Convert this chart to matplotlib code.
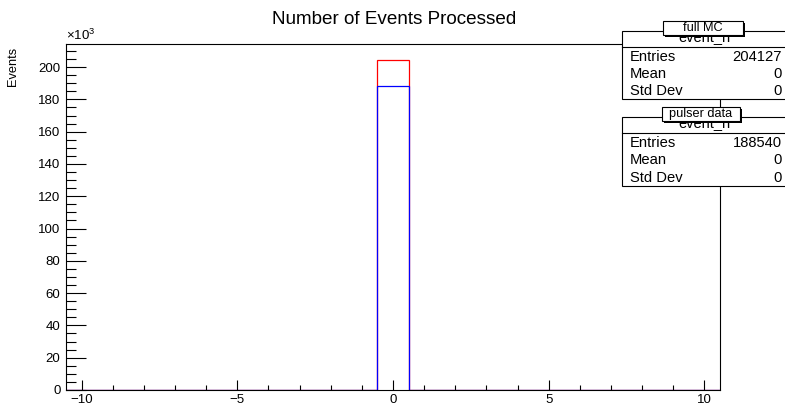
import numpy as np
import matplotlib as mpl
mpl.use('Agg')
import matplotlib.pyplot as plt
from matplotlib.patches import Rectangle
from matplotlib.ticker import MultipleLocator, FuncFormatter

plt.rcParams['font.family'] = ['Liberation Sans', 'DejaVu Sans']
plt.rcParams['mathtext.fontset'] = 'custom'
plt.rcParams['mathtext.rm'] = 'Liberation Sans'
plt.rcParams['mathtext.it'] = 'Liberation Sans:italic'

# event_n histograms, 21 unit bins from -10.5 to 10.5
bin_edges = [-10.5, -9.5, -8.5, -7.5, -6.5, -5.5, -4.5, -3.5, -2.5, -1.5, -0.5,
             0.5, 1.5, 2.5, 3.5, 4.5, 5.5, 6.5, 7.5, 8.5, 9.5, 10.5]
mc_counts = [0] * 10 + [204127] + [0] * 10
pulser_counts = [0] * 10 + [188540] + [0] * 10

mc_stats = [('Entries', '204127'), ('Mean', '0'), ('Std Dev', '0')]
pulser_stats = [('Entries', '188540'), ('Mean', '0'), ('Std Dev', '0')]

W, H = 785, 405
fig = plt.figure(figsize=(W / 100, H / 100), dpi=100)
ax = fig.add_axes([66 / W, 1 - 390 / H, (720 - 66) / W, (390 - 44) / H])

ax.stairs(mc_counts, bin_edges, color='#ff0000', lw=0.9)
ax.stairs(pulser_counts, bin_edges, color='#0000ff', lw=0.9)

ax.set_xlim(-10.5, 10.5)
ax.set_ylim(0, 1.05 * max(mc_counts))

ax.xaxis.set_major_locator(MultipleLocator(5))
ax.xaxis.set_minor_locator(MultipleLocator(1))
ax.yaxis.set_major_locator(MultipleLocator(20000))
ax.yaxis.set_minor_locator(MultipleLocator(5000))
ax.yaxis.set_major_formatter(FuncFormatter(lambda v, p: '%d' % round(v / 1000)))

ax.tick_params(axis='x', which='major', direction='in', length=7.4, width=0.8,
               labelsize=9.5, pad=3)
ax.tick_params(axis='x', which='minor', direction='in', length=3.7, width=0.8)
ax.tick_params(axis='y', which='major', direction='in', length=14.4, width=0.8,
               labelsize=9.5, pad=4)
ax.tick_params(axis='y', which='minor', direction='in', length=7.2, width=0.8)
for s in ax.spines.values():
    s.set_linewidth(0.8)

ax.text(0, 1.003, r'$\times10^{3}$', transform=ax.transAxes, fontsize=9.5,
        ha='left', va='bottom')
fig.text(13 / W, 1 - 47 / H, 'Events', rotation=90, fontsize=9.2,
         ha='center', va='top')
fig.text(394 / W, 1 - 24 / H, 'Number of Events Processed', fontsize=13.6,
         ha='center', va='baseline')


def px(x, y):
    return x / W, 1 - y / H


def stats_box(top, bottom, label, lab_box, rows):
    x0, x1 = 622, 790
    l, b = px(x0, bottom)
    fig.patches.append(Rectangle((l, b), (x1 - x0) / W, (bottom - top) / H,
                                 transform=fig.transFigure, facecolor='white',
                                 edgecolor='black', lw=0.8, zorder=5))
    sep = top + 16
    fig.lines.append(plt.Line2D([x0 / W, 1], [1 - sep / H] * 2,
                                transform=fig.transFigure, color='black',
                                lw=0.8, zorder=6))
    lx0, ly0, lx1, ly1 = lab_box
    # histogram name, mostly covered by the label box
    name = fig.text(704 / W, 1 - (top + 7.5) / H, 'event_n', fontsize=10.5,
                    ha='center', va='center', zorder=6)
    cl, cb = px(x0, sep)
    clip = Rectangle((cl, cb), (x1 - x0) / W, (sep - ly1 - 2) / H,
                     transform=fig.transFigure)
    name.set_clip_path(clip)
    # label box with a small shadow
    sl, sb = px(lx0 + 2, ly1 + 2)
    fig.patches.append(Rectangle((sl, sb), (lx1 - lx0) / W, (ly1 - ly0) / H,
                                 transform=fig.transFigure, facecolor='black',
                                 edgecolor='none', zorder=7))
    bl, bb = px(lx0, ly1)
    fig.patches.append(Rectangle((bl, bb), (lx1 - lx0) / W, (ly1 - ly0) / H,
                                 transform=fig.transFigure, facecolor='white',
                                 edgecolor='black', lw=0.8, zorder=8))
    fig.text((lx0 + lx1) / 2 / W, 1 - (ly0 + ly1) / 2 / H, label,
             fontsize=9.2, ha='center', va='center', zorder=9)
    row_h = (bottom - sep) / 3
    for i, (key, val) in enumerate(rows):
        yc = sep + row_h * (i + 0.55)
        fig.text(630 / W, 1 - yc / H, key, fontsize=10.6, ha='left',
                 va='center', zorder=6)
        fig.text(782 / W, 1 - yc / H, val, fontsize=10.6, ha='right',
                 va='center', zorder=6)


stats_box(31, 99, 'full MC', (663, 21, 743, 35), mc_stats)
stats_box(117, 186, 'pulser data', (662, 107, 740, 121), pulser_stats)

fig.savefig('out.png', dpi=100)
